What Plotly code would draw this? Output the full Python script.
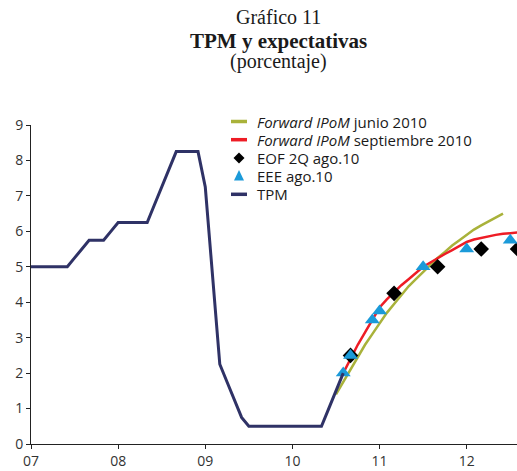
import plotly.graph_objects as go

# month index counted from Jan 2007 (0 = Jan-07)
tpm_months = list(range(0, 44))
tpm_values = [5.0, 5.0, 5.0, 5.0, 5.0, 5.0, 5.25, 5.5, 5.75, 5.75, 5.75, 6.0,
              6.25, 6.25, 6.25, 6.25, 6.25, 6.75, 7.25, 7.75, 8.25, 8.25, 8.25, 8.25,
              7.25, 4.75, 2.25, 1.75, 1.25, 0.75, 0.5, 0.5, 0.5, 0.5, 0.5, 0.5,
              0.5, 0.5, 0.5, 0.5, 0.5, 1.0, 1.5, 2.0]

jun_months = list(range(42, 66))
jun_values = [1.4, 1.75, 2.1, 2.45, 2.8, 3.1, 3.4, 3.7, 3.95, 4.2, 4.45, 4.65,
              4.86, 5.05, 5.25, 5.42, 5.6, 5.75, 5.9, 6.05, 6.17, 6.28, 6.4, 6.5]

sep_months = list(range(43, 70))
sep_values = [2.0, 2.4, 2.8, 3.15, 3.5, 3.85, 4.08, 4.28, 4.48, 4.65, 4.82, 5.0,
              5.12, 5.25, 5.36, 5.47, 5.59, 5.7, 5.77, 5.82, 5.87, 5.9, 5.93, 5.95,
              5.97, 5.99, 6.0]

eof_months = [44, 50, 56, 62, 67]
eof_values = [2.5, 4.25, 5.0, 5.5, 5.5]

eee_months = [43, 44, 47, 48, 54, 60, 66]
eee_values = [2.0, 2.5, 3.5, 3.75, 5.0, 5.5, 5.75]

tick_years = [7, 8, 9, 10, 11, 12]
tick_labels = ["07", "08", "09", "10", "11", "12"]

legend_labels = ["<i>Forward IPoM</i> junio 2010",
                 "<i>Forward IPoM</i> septiembre 2010",
                 "EOF 2Q ago.10", "EEE ago.10", "TPM"]

OLIVE = '#a9b23a'
RED = '#ee1c25'
BLUE = '#1b9ad9'
NAVY = '#2f3266'

W, H = 517, 471
ML, MR, MT, MB = 31, 0, 125, 27
PW, PH = W - ML - MR, H - MT - MB


def to_x(months):
    return [7 + m / 12 for m in months]


def px_x(px):
    return (px - ML) / PW


def px_y(py):
    return (H - MB - py) / PH


fig = go.Figure()

fig.add_trace(go.Scatter(x=to_x(jun_months), y=jun_values, mode='lines',
                         line=dict(color=OLIVE, width=2.5)))
fig.add_trace(go.Scatter(x=to_x(sep_months), y=sep_values, mode='lines',
                         line=dict(color=RED, width=2.5)))
fig.add_trace(go.Scatter(x=to_x(eof_months), y=eof_values, mode='markers',
                         marker=dict(symbol='diamond', color='black', size=12)))
fig.add_trace(go.Scatter(x=to_x(eee_months), y=eee_values, mode='markers',
                         marker=dict(symbol='triangle-up', color=BLUE, size=13)))
fig.add_trace(go.Scatter(x=to_x(tpm_months), y=tpm_values, mode='lines',
                         line=dict(color=NAVY, width=3)))

# title block
for text, pix, size in [("Gráfico 11", 17, 20), ("<b>TPM y expectativas</b>", 41, 21),
                        ("(porcentaje)", 61, 20)]:
    fig.add_annotation(
        text=text, xref='paper', yref='paper', x=px_x(278), y=px_y(pix),
        xanchor='center', yanchor='middle', showarrow=False,
        font=dict(family='Liberation Serif', size=size, color='#1a1a1a'))

# hand-made legend (tighter rows than plotly's own)
row0, row_gap = 121.5, 18.2
for i, label in enumerate(legend_labels):
    yc = row0 + i * row_gap
    fig.add_annotation(
        text=label, xref='paper', yref='paper', x=px_x(255), y=px_y(yc),
        xanchor='left', yanchor='middle', showarrow=False,
        font=dict(family='Open Sans', size=15, color='#1a1a1a'))
    if i in (0, 1, 4):
        color = [OLIVE, RED, None, None, NAVY][i]
        fig.add_shape(type='line', xref='paper', yref='paper',
                      x0=px_x(231), x1=px_x(247), y0=px_y(yc), y1=px_y(yc),
                      line=dict(color=color, width=3.5))
    elif i == 2:
        fig.add_shape(type='path', xref='paper', yref='paper',
                      path=(f"M {px_x(239)} {px_y(yc - 5.5)} L {px_x(244.5)} {px_y(yc)} "
                            f"L {px_x(239)} {px_y(yc + 5.5)} L {px_x(233.5)} {px_y(yc)} Z"),
                      fillcolor='black', line=dict(width=0))
    else:
        fig.add_shape(type='path', xref='paper', yref='paper',
                      path=(f"M {px_x(239)} {px_y(yc - 6)} L {px_x(244)} {px_y(yc + 4.5)} "
                            f"L {px_x(234)} {px_y(yc + 4.5)} Z"),
                      fillcolor=BLUE, line=dict(width=0))

fig.update_layout(
    width=W, height=H,
    margin=dict(l=ML, r=MR, t=MT, b=MB, autoexpand=False),
    plot_bgcolor='white', paper_bgcolor='white',
    font=dict(family='Open Sans', size=14, color='#333333'),
    showlegend=False,
    xaxis=dict(
        range=[7, 7 + PW / 87.14], tickvals=tick_years, ticktext=tick_labels,
        showgrid=False, zeroline=False, showline=True, linecolor='#222222',
        linewidth=1, ticks='outside', ticklen=4, tickcolor='#222222',
        automargin=False
    ),
    yaxis=dict(
        range=[0, 9], dtick=1, showgrid=False, zeroline=False,
        showline=True, linecolor='#222222', linewidth=1,
        ticks='outside', ticklen=4, tickcolor='#222222', automargin=False
    ),
)

# page body has a default 8px margin; drop it so the figure sits at the corner
fig.write_html("out.html", config={'displayModeBar': False},
               post_script="document.body.style.margin='0';")
